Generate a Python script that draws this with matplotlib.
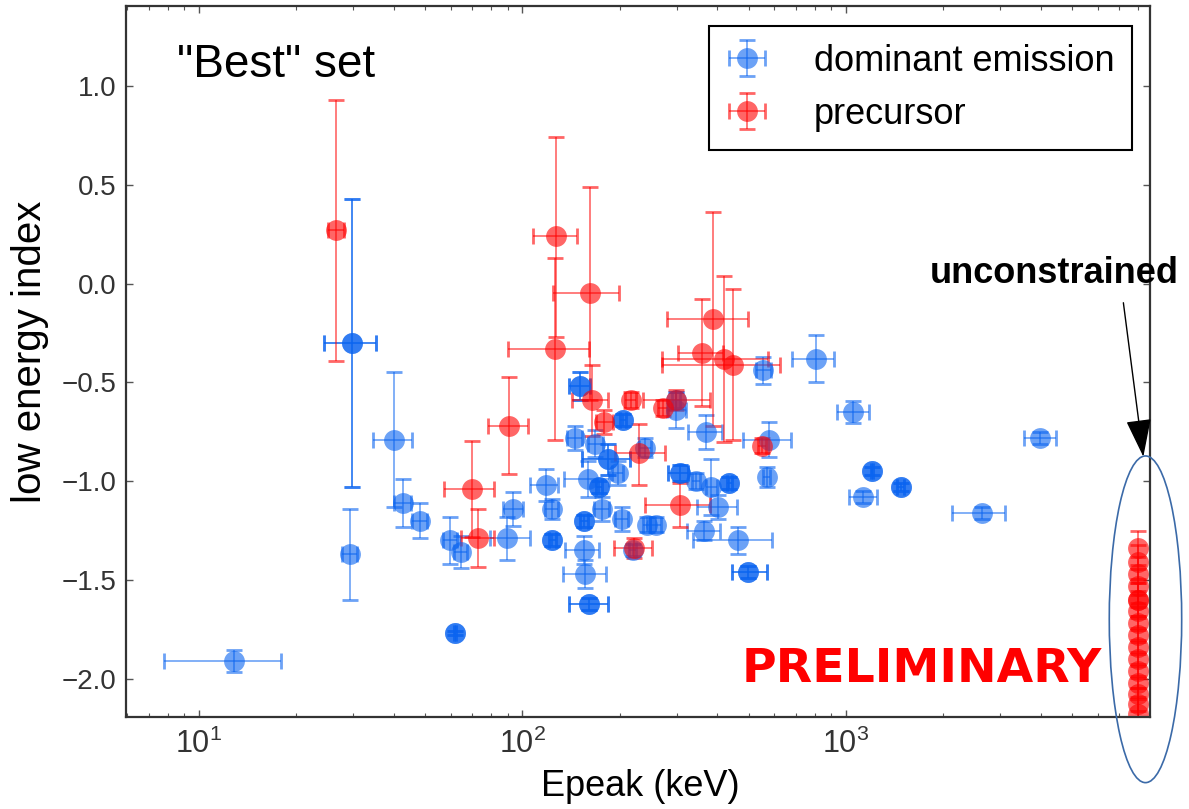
import numpy as np
from matplotlib import pyplot as plt
from matplotlib.patches import Ellipse, FancyArrowPatch

plt.rcParams['font.family'] = ['Liberation Sans', 'DejaVu Sans']

# dominant emission (blue)
dom_epeak = [29.8, 29.8, 40.1, 42.7, 48.2, 29.2, 59.7, 64.5, 62.0, 62.0, 12.8, 89.6, 93.7, 117.9, 123.1,
             123.6, 123.6, 150.6, 150.6, 144.8, 167.9, 204.4, 204.4, 184.1, 184.1, 159.7, 197.0, 172.6, 172.6,
             154.9, 154.9, 175.7, 202.6, 242.0, 258.6, 154.4, 156.1, 160.9, 160.9, 299.2, 239.2, 306.8, 306.8,
             343.9, 383.3, 435.5, 435.5, 402.9, 365.2, 464.7, 499.5, 499.5, 369.1, 578.1, 568.8, 555.2, 805.9,
             1053.4, 1200.6, 1200.6, 1476.0, 1476.0, 1131.0, 2627.0, 3978.0, 298.8, 219.0]
dom_epeak_lo = [5.5, 5.5, 5.6, 2.5, 2.5, 1.5, 3.0, 3.0, 0.5, 0.5, 5.0, 10.3, 6.5, 12.4, 6.0,
                3.0, 3.0, 11.4, 11.4, 8.0, 9.0, 4.0, 4.0, 31.7, 31.7, 25.0, 8.0, 4.0, 4.0,
                4.0, 4.0, 9.0, 10.0, 6.0, 10.0, 19.1, 22.7, 21.7, 21.7, 20.0, 10.0, 25.0, 25.0,
                10.0, 15.0, 8.0, 8.0, 57.3, 42.7, 127.4, 56.2, 56.2, 44.3, 97.8, 15.0, 30.0, 126.5,
                113.4, 10.0, 10.0, 40.0, 40.0, 109.4, 505.0, 429.0, 8.0, 6.0]
dom_epeak_hi = [5.4, 5.4, 5.4, 2.5, 2.5, 1.5, 3.0, 3.0, 0.5, 0.5, 5.1, 15.9, 6.5, 10.9, 6.0,
                3.0, 3.0, 11.1, 11.1, 8.0, 9.0, 4.0, 4.0, 30.8, 30.8, 25.0, 8.0, 4.0, 4.0,
                4.0, 4.0, 9.0, 10.0, 6.0, 10.0, 18.0, 24.7, 22.9, 22.9, 20.0, 10.0, 18.0, 18.0,
                10.0, 15.0, 8.0, 8.0, 58.5, 42.5, 124.7, 69.3, 69.3, 43.7, 96.4, 15.0, 30.0, 112.3,
                124.4, 10.0, 10.0, 40.0, 40.0, 118.6, 474.0, 480.0, 8.0, 6.0]
dom_index = [-0.30, -0.30, -0.79, -1.11, -1.20, -1.37, -1.30, -1.36, -1.77, -1.77, -1.91, -1.29, -1.14, -1.02, -1.14,
             -1.30, -1.30, -0.52, -0.52, -0.78, -0.81, -0.69, -0.69, -0.89, -0.89, -0.99, -0.96, -1.03, -1.03,
             -1.20, -1.20, -1.14, -1.19, -1.22, -1.22, -1.35, -1.47, -1.62, -1.62, -0.64, -0.83, -0.96, -0.96,
             -1.00, -1.03, -1.01, -1.01, -1.13, -1.25, -1.30, -1.46, -1.46, -0.75, -0.79, -0.98, -0.44, -0.38,
             -0.65, -0.95, -0.95, -1.03, -1.03, -1.08, -1.16, -0.78, -0.59, -1.35]
dom_index_err = [0.73, 0.73, 0.34, 0.12, 0.09, 0.23, 0.12, 0.08, 0.01, 0.01, 0.055, 0.11, 0.085, 0.08, 0.05,
                 0.03, 0.03, 0.07, 0.07, 0.06, 0.07, 0.03, 0.03, 0.08, 0.08, 0.09, 0.06, 0.03, 0.03,
                 0.03, 0.03, 0.06, 0.06, 0.04, 0.04, 0.07, 0.07, 0.03, 0.03, 0.09, 0.05, 0.04, 0.04,
                 0.04, 0.14, 0.03, 0.03, 0.06, 0.05, 0.07, 0.03, 0.03, 0.085, 0.09, 0.05, 0.07, 0.12,
                 0.057, 0.02, 0.02, 0.02, 0.02, 0.03, 0.03, 0.03, 0.04, 0.03]

# precursor (red)
pre_epeak = [26.5, 126.9, 161.7, 126.0, 163.6, 90.9, 69.7, 72.7, 215.7, 298.8,
             272.4, 179.0, 229.5, 306.8, 220.8, 388.8, 358.0, 419.7, 447.5, 548.8]
pre_epeak_lo = [1.5, 19.1, 37.4, 35.8, 21.7, 12.7, 12.5, 8.2, 8.0, 63.0,
                10.0, 10.6, 36.3, 67.6, 29.0, 109.7, 56.0, 150.3, 178.1, 15.0]
pre_epeak_hi = [1.5, 20.5, 37.1, 34.6, 20.6, 13.1, 11.9, 8.9, 8.0, 81.0,
                10.0, 11.9, 46.2, 73.0, 30.0, 110.1, 59.0, 155.6, 177.7, 15.0]
pre_index = [0.27, 0.24, -0.05, -0.33, -0.59, -0.72, -1.04, -1.29, -0.59, -0.59,
             -0.63, -0.70, -0.86, -1.12, -1.34, -0.18, -0.35, -0.38, -0.41, -0.82]
pre_index_lo = [0.66, 0.51, 0.54, 0.46, 0.18, 0.245, 0.245, 0.145, 0.04, 0.05,
                0.04, 0.06, 0.16, 0.11, 0.05, 0.54, 0.27, 0.42, 0.38, 0.04]
pre_index_hi = [0.66, 0.50, 0.54, 0.46, 0.18, 0.245, 0.245, 0.15, 0.04, 0.05,
                0.04, 0.06, 0.15, 0.11, 0.05, 0.54, 0.27, 0.42, 0.38, 0.04]

# precursors with unconstrained Epeak, put at the right edge
unc_epeak = 8000
unc_index = [-1.34, -1.41, -1.47, -1.53, -1.60, -1.60, -1.66, -1.72, -1.78,
             -1.84, -1.90, -1.96, -2.02, -2.08, -2.13, -2.18]
unc_index_err = 0.085

blue = '#0a64f0'
red = '#ff0000'

fig = plt.figure(figsize=(11.89, 8.09), dpi=100)
ax = fig.add_axes([0.10597, 0.11422, 0.86123, 0.87837])

estilo = dict(fmt='o', ms=15, elinewidth=1.2, capsize=6, capthick=2, alpha=0.6)
eb1 = ax.errorbar(dom_epeak, dom_index, xerr=[dom_epeak_lo, dom_epeak_hi], yerr=dom_index_err,
                  color=blue, label='dominant emission', **estilo)
eb2 = ax.errorbar(pre_epeak, pre_index, xerr=[pre_epeak_lo, pre_epeak_hi], yerr=[pre_index_lo, pre_index_hi],
                  color=red, label='precursor', **estilo)
eb3 = ax.errorbar(np.full(len(unc_index), unc_epeak), unc_index, yerr=unc_index_err, color=red, **estilo)
for eb in (eb1, eb2, eb3):
    eb[0].set_markeredgewidth(0) #só o marcador, sem borda

ax.set_xscale('log')
ax.set_xlim(5.95, 8700)
ax.set_ylim(-2.192, 1.405)
ax.set_yticks([-2.0, -1.5, -1.0, -0.5, 0.0, 0.5, 1.0])
ax.yaxis.set_major_formatter(plt.FuncFormatter(lambda v, p: ('%.1f' % v).replace('-', '\u2212')))

ax.tick_params(which='both', direction='in', top=True, right=True, colors='#555555')
ax.tick_params(which='major', length=5, width=1)
ax.tick_params(which='minor', length=3, width=0.8)
ax.tick_params(axis='x', labelsize=22, labelcolor='#333333', pad=9)
ax.tick_params(axis='y', labelsize=20, labelcolor='#333333', pad=7)
for s in ax.spines.values():
    s.set_color('#333333')
    s.set_linewidth(1.6)

ax.set_xlabel('Epeak (keV)', fontsize=26)
ax.set_ylabel('low energy index', fontsize=29)
ax.xaxis.set_label_coords(0.502, -0.074)
ax.yaxis.set_label_coords(-0.075, 0.514)

ax.text(0.05, 0.90, '"Best" set', transform=ax.transAxes, fontsize=33, va='baseline')
ax.text(0.601, 0.049, 'PRELIMINARY', transform=ax.transAxes, fontsize=34, va='baseline',
        color='red', fontweight='bold', family='DejaVu Sans')

leg = ax.legend(loc='upper right', bbox_to_anchor=(0.9827, 0.9723), borderaxespad=0, fontsize=26,
                fancybox=False, framealpha=1, edgecolor='black', handlelength=1.1,
                handletextpad=1.3, labelspacing=0.5, borderpad=0.5)
leg.get_frame().set_linewidth(1.5)

# anotação fora do eixo
fig.text(0.782, 0.6625, 'unconstrained', fontsize=26, fontweight='bold', va='center')
seta = FancyArrowPatch((0.9448, 0.6258), (0.9616, 0.4355), transform=fig.transFigure,
                       arrowstyle='-|>,head_length=1.2,head_width=0.4', mutation_scale=20,
                       color='black', lw=1, shrinkA=0, shrinkB=0)
fig.add_artist(seta)
fig.add_artist(Ellipse((0.9634, 0.2345), 0.0609, 0.4038, transform=fig.transFigure,
                       fill=False, edgecolor='#3b6aa8', lw=1.2))

plt.savefig('out.png', dpi=100)
